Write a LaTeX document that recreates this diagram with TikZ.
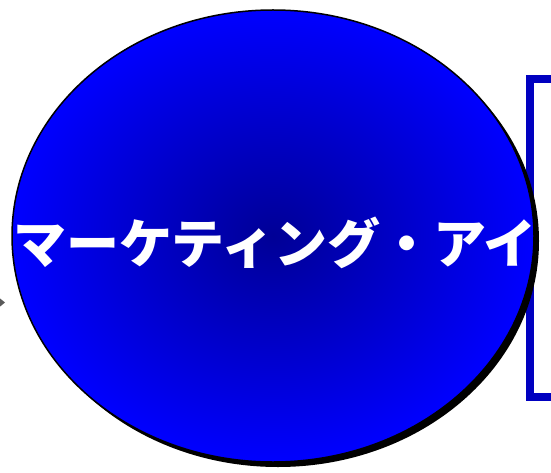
\documentclass[tikz,border=0pt]{standalone}
\usepackage{fontspec}
\newfontfamily\cjk{Noto Sans CJK JP}
\usetikzlibrary{shapes.geometric}
\definecolor{brk}{RGB}{0,0,192}
\definecolor{dkb}{RGB}{0,0,150}
\definecolor{grr}{RGB}{90,90,90}
\begin{document}
\begin{tikzpicture}[x=1pt,y=-1pt]
\useasboundingbox (0,0) rectangle (551,473);
% bracket (rectangle partly behind the ellipse)
\draw[brk,line width=7.5pt] (530,79) rectangle (600,397);
% left grey arrowhead
\fill[grr] (-3,296) -- (5,302.5) -- (-3,309) -- cycle;
% shadow
\fill[black] (278,241) ellipse [x radius=261, y radius=226];
% main ellipse
\shade[inner color=dkb, outer color=blue, draw=black, line width=1.5pt]
  (273,236) ellipse [x radius=261, y radius=226];
\node[text=white, font=\cjk\bfseries\fontsize{53}{60}\selectfont, inner sep=0pt] (t) at (275,243) {マーケティング・アイ};
\end{tikzpicture}
\end{document}
